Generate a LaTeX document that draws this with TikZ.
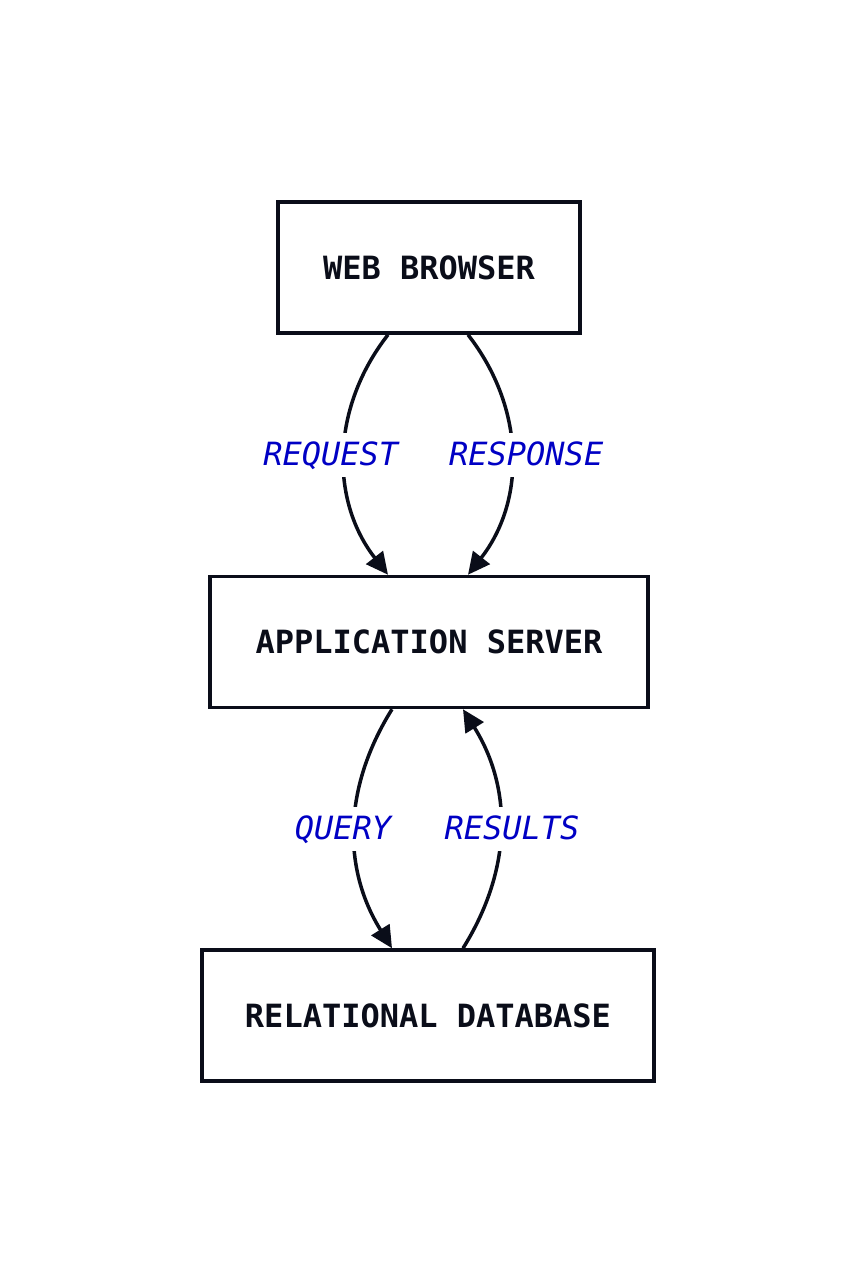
\documentclass[tikz,border=0pt]{standalone}
\usepackage{fontspec}
\setmonofont{DejaVu Sans Mono}
\usetikzlibrary{arrows.meta}
\definecolor{ink}{RGB}{10,13,25}
\definecolor{lblblue}{RGB}{0,0,196}
\tikzset{
  tier/.style={draw=ink,line width=3.5pt,rectangle,minimum height=131pt,inner sep=0pt,
    font=\fontsize{32}{38}\selectfont\ttfamily\bfseries,text=ink},
  flow/.style={draw=ink,line width=3.5pt,-{Triangle[length=22pt,width=21pt]}},
  lbl/.style={fill=white,inner xsep=4pt,inner ysep=11pt,text height=22pt,text depth=0pt,
    font=\fontsize{32}{38}\selectfont\ttfamily\itshape,text=lblblue}
}
\begin{document}
\begin{tikzpicture} [x=1pt,y=-1pt]
\useasboundingbox (0,0) rectangle (856,1284);
%tiers
        \node[tier,minimum width=302pt] (web) at (429,267.5) {WEB BROWSER};
        \node[tier,minimum width=438pt] (app) at (429,642) {APPLICATION SERVER};
        \node[tier,minimum width=452pt] (db) at (428,1015.5) {RELATIONAL DATABASE};

%browser <-> server
        \draw [ flow ] ([xshift=-41pt]web.south) to[bend right=38] node[lbl,xshift=-14pt] {REQUEST} ([xshift=-41pt]app.north);
        \draw [ flow ] ([xshift=39pt]web.south) to[bend left=38] node[lbl,xshift=15pt] {RESPONSE} ([xshift=39pt]app.north);

%server <-> database
        \draw [ flow ] ([xshift=-37pt]app.south) to[bend right=32] node[lbl,xshift=-12pt] {QUERY} ([xshift=-36pt]db.north);
        \draw [ flow ] ([xshift=35pt]db.north) to[bend right=32] node[lbl,xshift=12pt] {RESULTS} ([xshift=34pt]app.south);
    \end{tikzpicture}
\end{document}
